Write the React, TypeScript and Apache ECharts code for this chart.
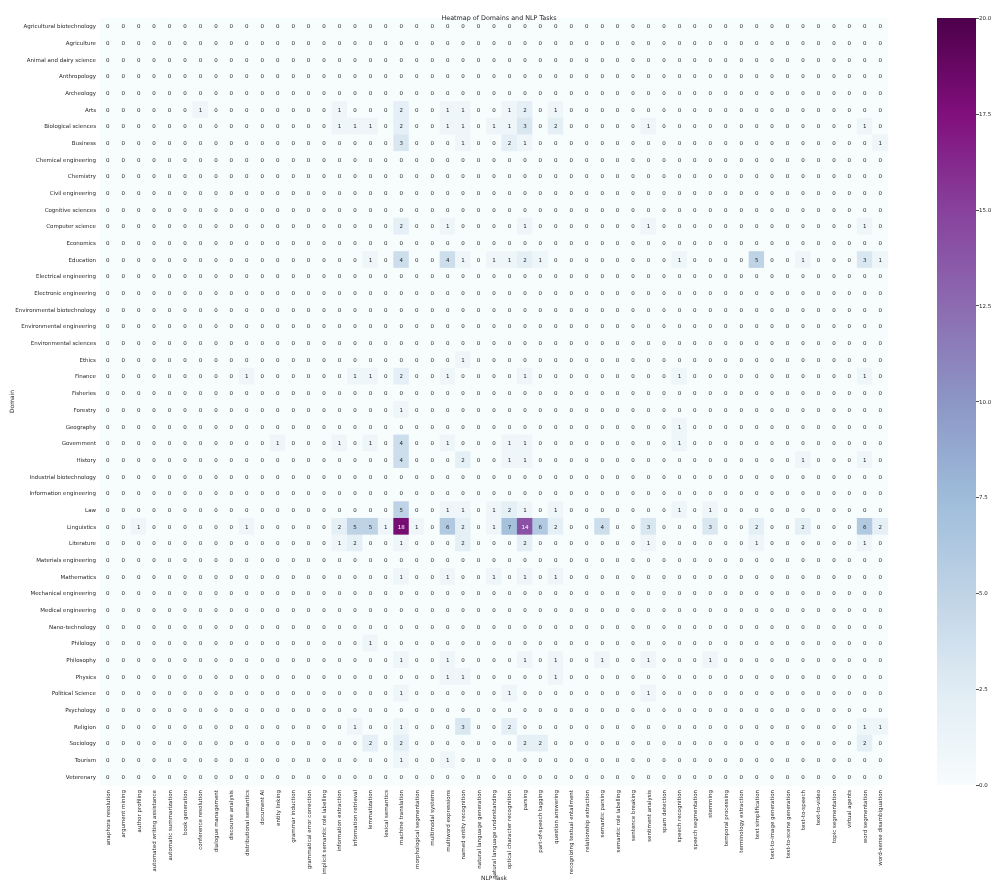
import React, { useEffect, useRef } from "react";
import * as echarts from "echarts";

const domains: string[] = [
  "Agricultural biotechnology", "Agriculture", "Animal and dairy science", "Anthropology", "Archeology",
  "Arts", "Biological sciences", "Business", "Chemical engineering", "Chemistry", "Civil engineering",
  "Cognitive sciences", "Computer science", "Economics", "Education", "Electrical engineering",
  "Electronic engineering", "Environmental biotechnology", "Environmental engineering",
  "Environmental sciences", "Ethics", "Finance", "Fisheries", "Forestry", "Geography", "Government",
  "History", "Industrial biotechnology", "Information engineering", "Law", "Linguistics", "Literature",
  "Materials engineering", "Mathematics", "Mechanical engineering", "Medical engineering",
  "Nano-technology", "Philology", "Philosophy", "Physics", "Political Science", "Psychology",
  "Religion", "Sociology", "Tourism", "Veterenary",
];

const tasks: string[] = [
  "anaphora resolution", "argument mining", "author profiling", "automated writing assistance",
  "automatic summarization", "book generation", "conference resolution", "dialogue management",
  "discourse analysis", "distributional semantics", "document AI", "entity linking",
  "grammar induction", "grammatical error correction", "implicit semantic role labelling",
  "information extraction", "information retrieval", "lemmatization", "lexical semantics",
  "machine translation", "morphological segmentation", "multimodal systems", "multiword expressions",
  "named entity recognition", "natural language generation", "natural language understanding",
  "optical character recognition", "parsing", "part-of-speech tagging", "question answering",
  "recognizing textual entailment", "relationship extraction", "semantic parsing",
  "semantic role labelling", "sentence breaking", "sentiment analysis", "spam detection",
  "speech recognition", "speech segmentation", "stemming", "temporal processing",
  "terminology extraction", "text simplification", "text-to-image generation",
  "text-to-scene generation", "text-to-speech", "text-to-video", "topic segmentation",
  "virtual agents", "word segmentation", "word-sense disambiguation",
];

// Non-zero counts: [domain, task, count]; every other cell is 0
const nonZeroCounts: [string, string, number][] = [
  ["Arts", "conference resolution", 1], ["Arts", "information extraction", 1], ["Arts", "machine translation", 2],
  ["Arts", "multiword expressions", 1], ["Arts", "named entity recognition", 1], ["Arts", "optical character recognition", 1],
  ["Arts", "parsing", 2], ["Arts", "question answering", 1],
  ["Biological sciences", "information extraction", 1], ["Biological sciences", "information retrieval", 1],
  ["Biological sciences", "lemmatization", 1], ["Biological sciences", "machine translation", 2],
  ["Biological sciences", "multiword expressions", 1], ["Biological sciences", "named entity recognition", 1],
  ["Biological sciences", "natural language understanding", 1], ["Biological sciences", "optical character recognition", 1],
  ["Biological sciences", "parsing", 3], ["Biological sciences", "question answering", 2],
  ["Biological sciences", "sentiment analysis", 1], ["Biological sciences", "word segmentation", 1],
  ["Business", "machine translation", 3], ["Business", "named entity recognition", 1],
  ["Business", "optical character recognition", 2], ["Business", "parsing", 1], ["Business", "word-sense disambiguation", 1],
  ["Computer science", "machine translation", 2], ["Computer science", "multiword expressions", 1],
  ["Computer science", "parsing", 1], ["Computer science", "sentiment analysis", 1], ["Computer science", "word segmentation", 1],
  ["Education", "lemmatization", 1], ["Education", "machine translation", 4], ["Education", "multiword expressions", 4],
  ["Education", "named entity recognition", 1], ["Education", "natural language understanding", 1],
  ["Education", "optical character recognition", 1], ["Education", "parsing", 2], ["Education", "part-of-speech tagging", 1],
  ["Education", "speech recognition", 1], ["Education", "text simplification", 5], ["Education", "text-to-speech", 1],
  ["Education", "word segmentation", 3], ["Education", "word-sense disambiguation", 1],
  ["Ethics", "named entity recognition", 1],
  ["Finance", "distributional semantics", 1], ["Finance", "information retrieval", 1], ["Finance", "lemmatization", 1],
  ["Finance", "machine translation", 2], ["Finance", "multiword expressions", 1], ["Finance", "parsing", 1],
  ["Finance", "speech recognition", 1], ["Finance", "word segmentation", 1],
  ["Forestry", "machine translation", 1],
  ["Geography", "speech recognition", 1],
  ["Government", "entity linking", 1], ["Government", "information extraction", 1], ["Government", "lemmatization", 1],
  ["Government", "machine translation", 4], ["Government", "multiword expressions", 1],
  ["Government", "optical character recognition", 1], ["Government", "parsing", 1], ["Government", "speech recognition", 1],
  ["History", "machine translation", 4], ["History", "named entity recognition", 2],
  ["History", "optical character recognition", 1], ["History", "parsing", 1], ["History", "text-to-speech", 1],
  ["History", "word segmentation", 1],
  ["Law", "machine translation", 5], ["Law", "multiword expressions", 1], ["Law", "named entity recognition", 1],
  ["Law", "natural language understanding", 1], ["Law", "optical character recognition", 2], ["Law", "parsing", 1],
  ["Law", "question answering", 1], ["Law", "speech recognition", 1], ["Law", "stemming", 1],
  ["Linguistics", "author profiling", 1], ["Linguistics", "distributional semantics", 1],
  ["Linguistics", "information extraction", 2], ["Linguistics", "information retrieval", 5],
  ["Linguistics", "lemmatization", 5], ["Linguistics", "lexical semantics", 1], ["Linguistics", "machine translation", 18],
  ["Linguistics", "morphological segmentation", 1], ["Linguistics", "multiword expressions", 6],
  ["Linguistics", "named entity recognition", 2], ["Linguistics", "natural language understanding", 1],
  ["Linguistics", "optical character recognition", 7], ["Linguistics", "parsing", 14],
  ["Linguistics", "part-of-speech tagging", 6], ["Linguistics", "question answering", 2],
  ["Linguistics", "semantic parsing", 4], ["Linguistics", "sentiment analysis", 3], ["Linguistics", "stemming", 3],
  ["Linguistics", "text simplification", 2], ["Linguistics", "text-to-speech", 2],
  ["Linguistics", "word segmentation", 6], ["Linguistics", "word-sense disambiguation", 2],
  ["Literature", "information extraction", 1], ["Literature", "information retrieval", 2],
  ["Literature", "machine translation", 1], ["Literature", "named entity recognition", 2], ["Literature", "parsing", 2],
  ["Literature", "sentiment analysis", 1], ["Literature", "text simplification", 1], ["Literature", "word segmentation", 1],
  ["Mathematics", "machine translation", 1], ["Mathematics", "multiword expressions", 1],
  ["Mathematics", "natural language understanding", 1], ["Mathematics", "parsing", 1], ["Mathematics", "question answering", 1],
  ["Philology", "lemmatization", 1],
  ["Philosophy", "machine translation", 1], ["Philosophy", "multiword expressions", 1], ["Philosophy", "parsing", 1],
  ["Philosophy", "question answering", 1], ["Philosophy", "semantic parsing", 1], ["Philosophy", "sentiment analysis", 1],
  ["Philosophy", "stemming", 1],
  ["Physics", "multiword expressions", 1], ["Physics", "named entity recognition", 1], ["Physics", "question answering", 1],
  ["Political Science", "machine translation", 1], ["Political Science", "optical character recognition", 1],
  ["Political Science", "sentiment analysis", 1],
  ["Religion", "information retrieval", 1], ["Religion", "machine translation", 1], ["Religion", "named entity recognition", 3],
  ["Religion", "optical character recognition", 2], ["Religion", "word segmentation", 1], ["Religion", "word-sense disambiguation", 1],
  ["Sociology", "lemmatization", 2], ["Sociology", "machine translation", 2], ["Sociology", "parsing", 2],
  ["Sociology", "part-of-speech tagging", 2], ["Sociology", "word segmentation", 2],
  ["Tourism", "machine translation", 1], ["Tourism", "multiword expressions", 1],
];

const colorbarTicks: number[] = [0, 2.5, 5, 7.5, 10, 12.5, 15, 17.5, 20];
const buPu: string[] = ["#f7fcfd", "#e0ecf4", "#bfd3e6", "#9ebcda", "#8c96c6", "#8c6bb1", "#88419d", "#810f7c", "#4d004b"];
const vMin = 0;
const vMax = 20;

export default function App() {
  const ref = useRef<HTMLDivElement>(null);
  useEffect(() => {
    if (!ref.current) return;
    const chart = echarts.init(ref.current, undefined, { renderer: "svg" });
    const lookup = new Map<string, number>();
    nonZeroCounts.forEach(([d, t, v]) => lookup.set(d + "||" + t, v));
    const data: any[] = [];
    domains.forEach((d, yi) => {
      tasks.forEach((t, xi) => {
        const v = lookup.get(d + "||" + t) ?? 0;
        data.push({
          value: [xi, yi, v],
          label: { color: v >= 10 ? "#ffffff" : "#262626" },
        });
      });
    });

    const gridLeft = 100, gridTop = 18, gridW = 788, gridH = 767;
    const cbLeft = 937, cbW = 39;
    const stops = buPu
      .slice()
      .reverse()
      .map((c, i) => ({ offset: i / (buPu.length - 1), color: c }));
    const font = "DejaVu Sans";
    const tickSize = 5.5;

    chart.setOption({
      animation: false,
      backgroundColor: "#ffffff",
      textStyle: { fontFamily: font },
      title: {
        text: "Heatmap of Domains and NLP Tasks",
        left: gridLeft + gridW / 2,
        top: 10,
        textAlign: "center",
        textStyle: { fontSize: 6.4, fontWeight: "normal", color: "#262626", fontFamily: font },
      },
      grid: [
        { left: gridLeft, top: gridTop, width: gridW, height: gridH, outerBoundsMode: "none", containLabel: false },
        { left: cbLeft, top: gridTop, width: cbW, height: gridH, outerBoundsMode: "none", containLabel: false },
      ],
      xAxis: [
        {
          type: "category",
          data: tasks,
          gridIndex: 0,
          name: "NLP Task",
          nameLocation: "middle",
          nameGap: 90,
          nameMoveOverlap: false,
          nameTextStyle: { fontSize: 5.9, color: "#262626", fontFamily: font },
          axisLine: { show: false },
          axisTick: { show: false },
          splitLine: { show: false },
          axisLabel: { rotate: 90, interval: 0, fontSize: tickSize, color: "#262626", margin: 5, fontFamily: font },
        },
        { type: "value", gridIndex: 1, show: false, min: 0, max: 1 },
      ],
      yAxis: [
        {
          type: "category",
          data: domains,
          inverse: true,
          gridIndex: 0,
          name: "Domain",
          nameLocation: "middle",
          nameRotate: 90,
          nameGap: 85,
          nameMoveOverlap: false,
          nameTextStyle: { fontSize: 5.9, color: "#262626", fontFamily: font },
          axisLine: { show: false },
          axisTick: { show: false },
          splitLine: { show: false },
          axisLabel: { interval: 0, fontSize: tickSize, color: "#262626", margin: 4, fontFamily: font },
        },
        {
          type: "value",
          gridIndex: 1,
          position: "right",
          min: vMin,
          max: vMax,
          interval: colorbarTicks[1] - colorbarTicks[0],
          axisLine: { show: false, onZero: false },
          axisTick: { show: true, inside: false, length: 3, lineStyle: { color: "#262626", width: 0.8 } },
          splitLine: { show: false },
          axisLabel: {
            fontSize: tickSize,
            color: "#262626",
            margin: 3,
            fontFamily: font,
            formatter: (v: number) => v.toFixed(1),
          },
        },
      ],
      visualMap: {
        show: false,
        min: vMin,
        max: vMax,
        dimension: 2,
        seriesIndex: 0,
        inRange: { color: buPu },
      },
      graphic: [
        {
          type: "rect",
          shape: { x: cbLeft, y: gridTop, width: cbW, height: gridH },
          style: { fill: new echarts.graphic.LinearGradient(0, 0, 0, 1, stops) },
          z: 10,
        },
      ],
      series: [
        {
          type: "heatmap",
          xAxisIndex: 0,
          yAxisIndex: 0,
          data,
          label: { show: true, fontSize: tickSize, fontFamily: font },
          itemStyle: { borderWidth: 0 },
          emphasis: { disabled: true },
        },
      ],
    });
    return () => chart.dispose();
  }, []);

  return (
    <div
      ref={ref}
      style={{
        position: "fixed",
        left: 0,
        top: 0,
        width: 991,
        height: 885,
        background: "#fff",
        willChange: "transform",
        opacity: 0.999,
      }}
    />
  );
}
